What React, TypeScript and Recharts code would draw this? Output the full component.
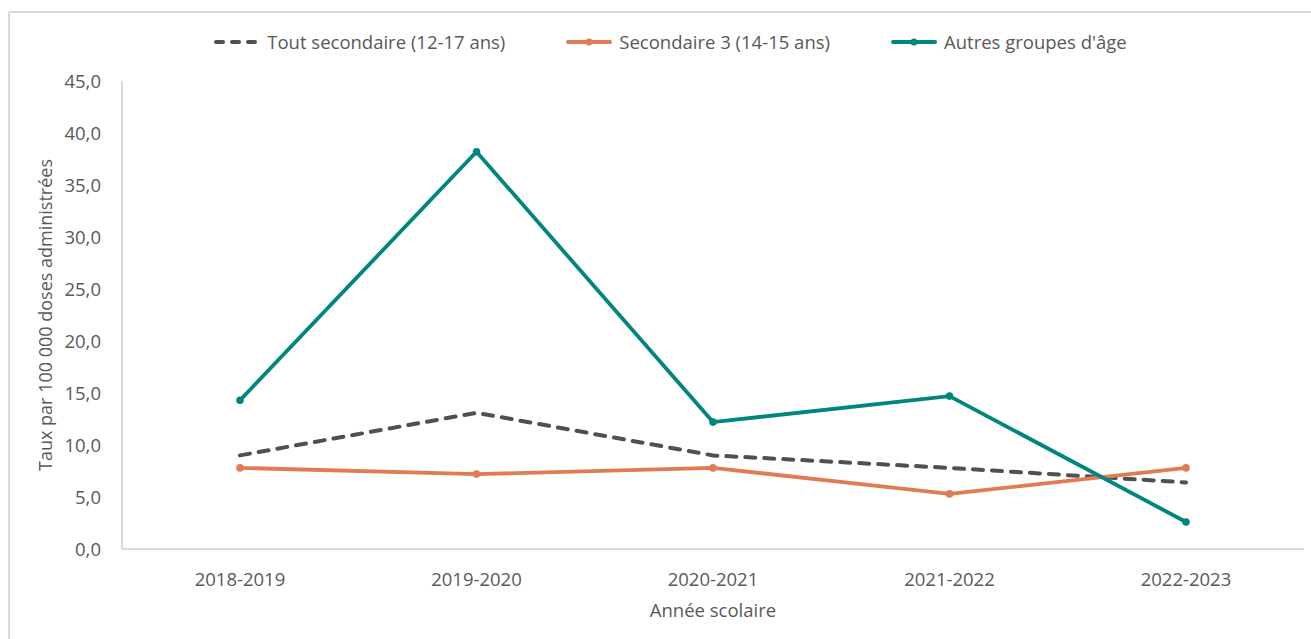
import { Line, LineChart, XAxis, YAxis } from "recharts";

const years = ["2018-2019", "2019-2020", "2020-2021", "2021-2022", "2022-2023"];
const toutSecondaire = [9.0, 13.1, 9.0, 7.8, 6.4];
const secondaire3 = [7.8, 7.2, 7.8, 5.3, 7.8];
const autresGroupes = [14.3, 38.2, 12.2, 14.7, 2.6];
const yTicks = [0, 5, 10, 15, 20, 25, 30, 35, 40, 45];

const data = years.map((year, i) => ({
  year,
  tout: toutSecondaire[i],
  sec3: secondaire3[i],
  autres: autresGroupes[i],
}));

const FONT = "'Open Sans', 'Noto Sans', sans-serif";
const INK = "#595959";
const GRAY = "#505050";
const ORANGE = "#E07B56";
const TEAL = "#00857F";
const AXIS = "#d9d9d9";

const fmt = (v: number) => v.toFixed(1).replace(".", ",");

const legendItems = [
  { label: "Tout secondaire (12-17 ans)", color: GRAY, dashed: true },
  { label: "Secondaire 3 (14-15 ans)", color: ORANGE, dashed: false },
  { label: "Autres groupes d'âge", color: TEAL, dashed: false },
];

function LegendRow() {
  return (
    <div
      style={{
        position: "absolute",
        top: 29,
        left: 0,
        width: 1340,
        display: "flex",
        justifyContent: "center",
        gap: 60,
        fontFamily: FONT,
        fontSize: 18.5,
        color: INK,
      }}
    >
      {legendItems.map((it) => (
        <div key={it.label} style={{ display: "flex", alignItems: "center", gap: 6 }}>
          <svg width={48} height={10}>
            <line
              x1={3}
              x2={45}
              y1={5}
              y2={5}
              stroke={it.color}
              strokeWidth={4}
              strokeLinecap="round"
              strokeDasharray={it.dashed ? "7 9" : undefined}
            />
            {!it.dashed && <circle cx={24} cy={5} r={3.5} fill={it.color} />}
          </svg>
          <span>{it.label}</span>
        </div>
      ))}
    </div>
  );
}

export default function App() {
  return (
    <div style={{ position: "fixed", left: 0, top: 0, width: 1311, height: 639, background: "#fff", overflow: "hidden" }}>
      <div style={{ position: "absolute", left: 8, top: 11, width: 1320, height: 660, border: `2px solid ${AXIS}`, borderRadius: 2 }} />
      <LegendRow />
      <LineChart width={1311} height={639} data={data} margin={{ top: 81, right: 7, bottom: 50, left: 42 }} style={{ position: "absolute", left: 0, top: 0 }}>
        <XAxis
          dataKey="year"
          padding={{ left: 118, right: 118 }}
          axisLine={{ stroke: AXIS, strokeWidth: 2 }}
          tickLine={false}
          tick={{ fill: INK, fontSize: 18.5, fontFamily: FONT }}
          tickMargin={18}
          height={40}
          label={{ value: "Année scolaire", position: "insideBottom", offset: -28, fill: INK, fontSize: 18.5, fontFamily: FONT }}
        />
        <YAxis
          width={80}
          domain={[0, 45]}
          ticks={yTicks}
          interval={0}
          tickFormatter={fmt}
          axisLine={{ stroke: AXIS, strokeWidth: 2 }}
          tickLine={false}
          tick={{ fill: INK, fontSize: 18.5, fontFamily: FONT }}
          tickMargin={15}
          label={{
            value: "Taux par 100 000 doses administrées",
            angle: -90,
            position: "insideLeft",
            offset: 0,
            dx: 4,
            fill: INK,
            fontSize: 18,
            fontFamily: FONT,
            style: { textAnchor: "middle" },
          }}
        />
        <Line
          dataKey="tout"
          stroke={GRAY}
          strokeWidth={4}
          strokeDasharray="10 9"
          strokeLinecap="round"
          dot={false}
          activeDot={false}
          isAnimationActive={false}
        />
        <Line
          dataKey="sec3"
          stroke={ORANGE}
          strokeWidth={3.8}
          dot={{ r: 3.8, fill: ORANGE, stroke: ORANGE, strokeWidth: 0 }}
          isAnimationActive={false}
        />
        <Line
          dataKey="autres"
          stroke={TEAL}
          strokeWidth={3.8}
          dot={{ r: 3.8, fill: TEAL, stroke: TEAL, strokeWidth: 0 }}
          isAnimationActive={false}
        />
      </LineChart>
    </div>
  );
}
